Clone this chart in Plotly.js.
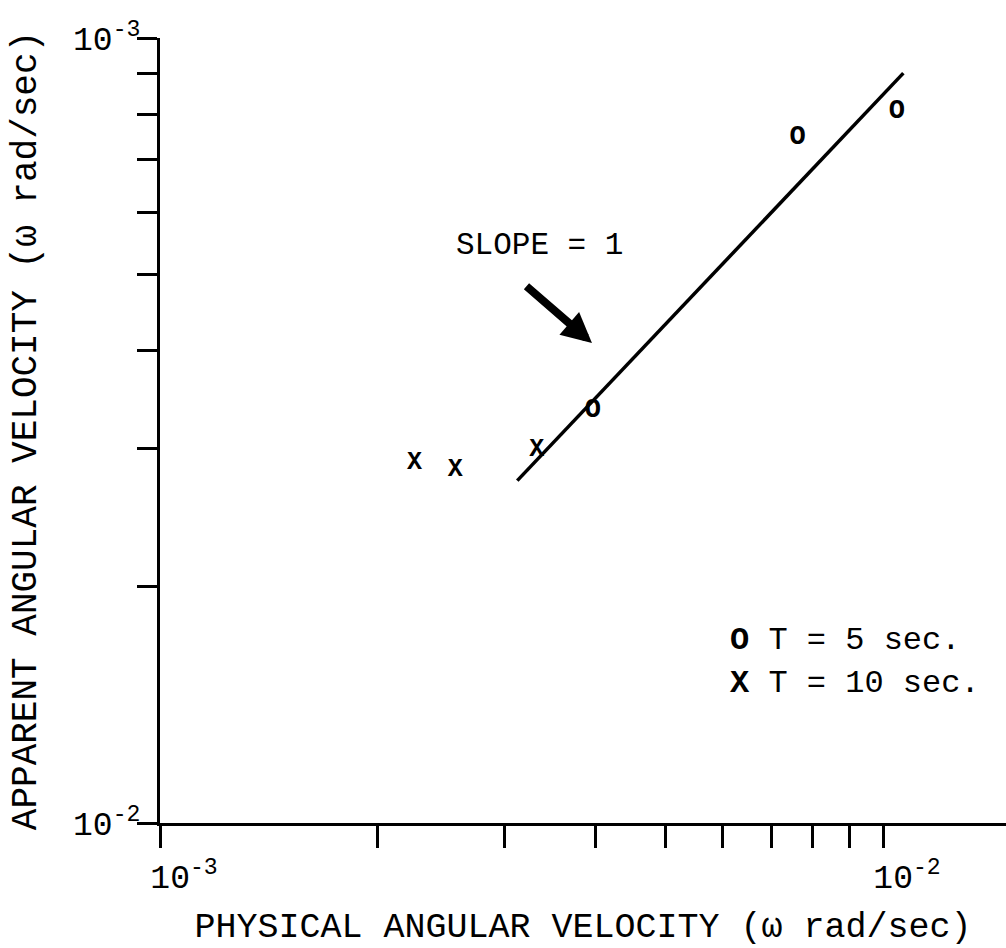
<!DOCTYPE html>
<html><head><meta charset="utf-8">
<script src="https://cdn.plot.ly/plotly-3.0.1.min.js"></script>
<style>html,body{margin:0;padding:0;background:#fff}</style>
</head><body><div id="chart" style="width:1006px;height:948px"></div>
<script>
// Data (physical vs apparent angular velocity)
const physT5 = [3.97e-3, 7.62e-3, 1.045e-2];
const appT5 = [3.36e-3, 7.48e-3, 8.06e-3];
const physT10 = [2.25e-3, 2.56e-3, 3.32e-3];
const appT10 = [2.88e-3, 2.82e-3, 2.99e-3];
const slopeLineX = [3.12e-3, 1.067e-2];
const slopeLineY = [2.73e-3, 9.02e-3];
const majorTickVals = [1e-3, 1e-2];
const minorTickVals = [2e-3, 3e-3, 4e-3, 5e-3, 6e-3, 7e-3, 8e-3, 9e-3];
const xTickText = ['10<sup>-3</sup>', '10<sup>-2</sup>'];
const yTickText = ['10<sup>-2</sup>', '10<sup>-3</sup>'];
const markT5 = 'O';
const markT10 = 'X';
const legendT5 = 'T = 5 sec.';
const legendT10 = 'T = 10 sec.';
const slopeLabel = 'SLOPE = 1';
const xTitle = 'PHYSICAL ANGULAR VELOCITY (\u03c9 rad/sec)';
const yTitle = 'APPARENT ANGULAR VELOCITY (\u03c9 rad/sec)';

const FONT = '"Liberation Mono", "Courier New", "DejaVu Sans Mono", monospace';

const traces = [
  {x: slopeLineX, y: slopeLineY, mode: 'lines', line: {color: '#000', width: 3.5}, showlegend: false, hoverinfo: 'skip'},
  {x: physT5, y: appT5, mode: 'text', text: physT5.map(() => markT5), textposition: 'middle center',
   textfont: {family: FONT, size: 27, color: '#000', weight: 'bold'}, name: legendT5, showlegend: false},
  {x: physT10, y: appT10, mode: 'text', text: physT10.map(() => markT10), textposition: 'middle center',
   textfont: {family: FONT, size: 25, color: '#000', weight: 'bold'}, name: legendT10, showlegend: false}
];

function axisBase(len) {
  return {
    type: 'log', showgrid: false, zeroline: false, showline: true, linecolor: '#000', linewidth: 3,
    ticks: 'outside', tickcolor: '#000', tickwidth: 3, ticklen: len, tickmode: 'array', tickvals: majorTickVals,
    tickfont: {family: FONT, size: 33, color: '#000'},
    minor: {tickmode: 'array', tickvals: minorTickVals, ticks: 'outside', ticklen: len, tickwidth: 3,
            tickcolor: '#000', showgrid: false}
  };
}

const layout = {
  width: 1006, height: 948,
  margin: {l: 160, r: 0, t: 38, b: 125},
  paper_bgcolor: '#fff', plot_bgcolor: '#fff',
  font: {family: FONT, color: '#000'},
  xaxis: Object.assign(axisBase(22), {
    range: [-3, -3 + 846 / 723], ticktext: xTickText, ticklabelshift: 24,
    title: {text: xTitle, font: {family: FONT, size: 35, color: '#000'}, standoff: 22}
  }),
  yaxis: Object.assign(axisBase(20), {
    range: [-3, -2], ticktext: yTickText, ticklabelstandoff: -10,
    title: {text: yTitle, font: {family: FONT, size: 36, color: '#000'}, standoff: 26}
  }),
  annotations: [
    {xref: 'paper', yref: 'paper', x: 0.449, y: 0.736, text: slopeLabel, showarrow: false,
     font: {family: FONT, size: 31, color: '#000'}, xanchor: 'center', yanchor: 'middle'},
    {xref: 'paper', yref: 'paper', x: 0.5106, y: 0.6115, text: '', showarrow: true,
     ax: -67, ay: -58, arrowcolor: '#000', arrowwidth: 8, arrowhead: 2, arrowsize: 0.75, standoff: 0},
    {xref: 'paper', yref: 'paper', x: (728 - 160) / 846, y: (823 - 640) / 785,
     text: '<b>' + markT5 + '</b> ' + legendT5, showarrow: false, xanchor: 'left', yanchor: 'middle',
     font: {family: FONT, size: 32, color: '#000'}},
    {xref: 'paper', yref: 'paper', x: (728 - 160) / 846, y: (823 - 683) / 785,
     text: '<b>' + markT10 + '</b> ' + legendT10, showarrow: false, xanchor: 'left', yanchor: 'middle',
     font: {family: FONT, size: 32, color: '#000'}}
  ]
};

Plotly.newPlot('chart', traces, layout, {displayModeBar: false, staticPlot: true});
</script>
</body></html>
